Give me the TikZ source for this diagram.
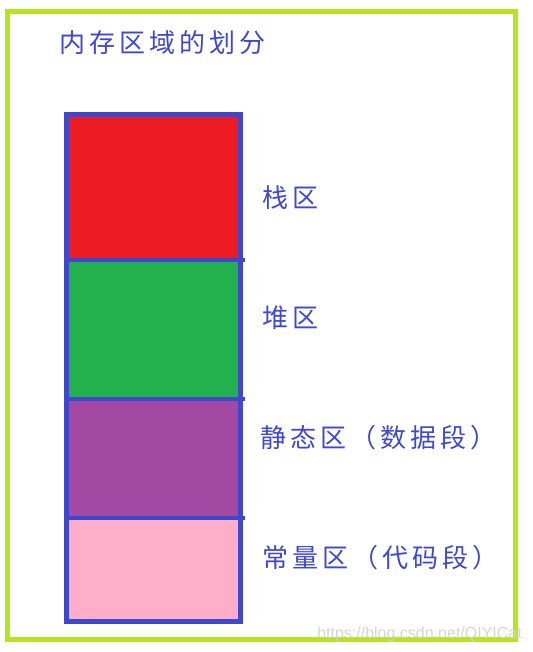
\documentclass[tikz,border=0pt]{standalone}
\usepackage{fontspec}
\newfontfamily\cjk{Noto Sans CJK SC}
\newfontfamily\wmfont{Liberation Sans}
\definecolor{framecol}{HTML}{B5E61D}
\definecolor{edgecol}{HTML}{3F48CC}
\definecolor{txtcol}{HTML}{4048D0}
\definecolor{stackcol}{HTML}{ED1C24}
\definecolor{heapcol}{HTML}{22B14C}
\definecolor{staticcol}{HTML}{A349A4}
\definecolor{constcol}{HTML}{FFAEC9}
\newcommand\cc[1]{\makebox[30pt][l]{#1}}
\begin{document}
\begin{tikzpicture}[x=1pt,y=-1pt,
  region/.style={draw=none,inner sep=0pt,outer sep=0pt,minimum width=173.5pt,anchor=north west},
  divider/.style={draw=edgecol,line width=4pt},
  lbl/.style={font=\cjk\fontsize{26}{26}\selectfont,text=txtcol,inner sep=0pt,anchor=west}]
\useasboundingbox (0,0) rectangle (532,652);
\fill[white] (0,0) rectangle (532,652);
\draw[framecol,line width=5pt] (7.5,11.5) rectangle (515.5,639.5);
\node[lbl] (title) at (59,43) {\cc{内}\cc{存}\cc{区}\cc{域}\cc{的}\cc{划}\cc{分}};
\node[region,fill=stackcol,minimum height=145pt] (stack) at (66.5,114.5) {};
\node[region,fill=heapcol,minimum height=139pt] (heap) at (stack.south west) {};
\node[region,fill=staticcol,minimum height=119.5pt] (static) at (heap.south west) {};
\node[region,fill=constcol,minimum height=103.5pt] (const) at (static.south west) {};
\draw[divider] (stack.south west) -- ([xshift=5pt]stack.south east);
\draw[divider] (heap.south west) -- ([xshift=5pt]heap.south east);
\draw[divider] (static.south west) -- ([xshift=5pt]static.south east);
\draw[edgecol,line width=5pt] (stack.north west) rectangle (const.south east);
\node[lbl] (lstack) at (262,198) {\cc{栈}\cc{区}};
\node[lbl] (lheap) at (262,318) {\cc{堆}\cc{区}};
\node[lbl] (lstatic) at (260,438) {\cc{静}\cc{态}\cc{区}\cc{（}\cc{数}\cc{据}\cc{段}\cc{）}};
\node[lbl] (lconst) at (262,558) {\cc{常}\cc{量}\cc{区}\cc{（}\cc{代}\cc{码}\cc{段}\cc{）}};
\node[font=\wmfont\fontsize{16}{16}\selectfont,text=gray!35,inner sep=0pt,anchor=east,opacity=0.9] (wm) at (522,634) {https://blog.csdn.net/QIYICat};
\end{tikzpicture}
\end{document}
